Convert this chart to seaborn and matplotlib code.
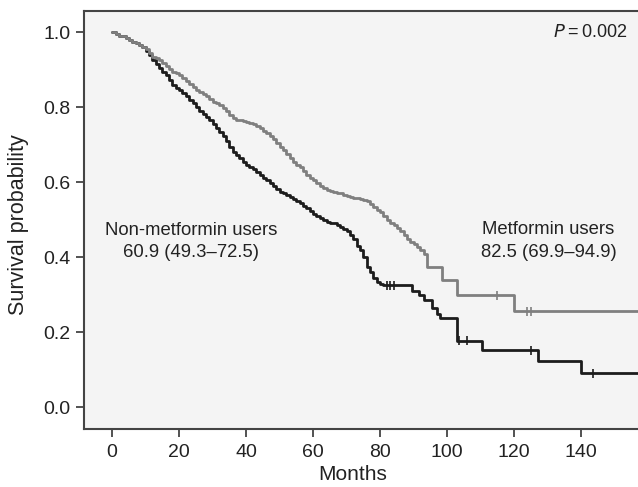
import pandas as pd
import numpy as np
import matplotlib
matplotlib.use("Agg")
import matplotlib.pyplot as plt
import seaborn as sns

# survival curves (time in months, survival probability)
non_met_time = [0, 1, 2, 3, 4, 5, 6, 7, 8, 9, 10, 11, 12, 13, 14, 15, 16, 17, 18, 19,
                20, 21, 22, 23, 24, 25, 26, 27, 28, 29, 30, 31, 32, 33, 34, 35, 36, 37, 38, 39,
                40, 41, 42, 43, 44, 45, 46, 47, 48, 49, 50, 51, 52, 53, 54, 55, 56, 57, 58, 59,
                60, 61, 62, 63, 64, 65, 66, 67, 68, 69, 70, 71, 72, 73, 74, 75, 76, 77, 78, 79,
                80, 81, 89.5, 91.5, 93, 95.5, 97, 98, 103, 110.5, 127, 140, 160]
non_met_surv = [1.0, 0.995, 0.99, 0.99, 0.985, 0.98, 0.975, 0.97, 0.965, 0.96,
                0.95, 0.94, 0.925, 0.915, 0.905, 0.895, 0.885, 0.872, 0.86, 0.852,
                0.845, 0.838, 0.83, 0.82, 0.81, 0.80, 0.79, 0.783, 0.775, 0.765,
                0.755, 0.745, 0.735, 0.722, 0.71, 0.695, 0.68, 0.672, 0.665, 0.655,
                0.645, 0.64, 0.635, 0.627, 0.62, 0.612, 0.605, 0.597, 0.59, 0.582,
                0.575, 0.57, 0.565, 0.56, 0.555, 0.55, 0.545, 0.537, 0.53, 0.522,
                0.515, 0.51, 0.505, 0.50, 0.495, 0.492, 0.49, 0.485, 0.48, 0.475,
                0.47, 0.46, 0.45, 0.43, 0.42, 0.40, 0.375, 0.36, 0.345, 0.335,
                0.33, 0.325, 0.31, 0.30, 0.285, 0.265, 0.25, 0.237, 0.178, 0.152,
                0.123, 0.091, 0.091]

met_time = [0, 1, 2, 3, 4, 5, 6, 7, 8, 9, 10, 11, 12, 13, 14, 15, 16, 17, 18, 19,
            20, 21, 22, 23, 24, 25, 26, 27, 28, 29, 30, 31, 32, 33, 34, 35, 36, 37, 38, 39,
            40, 41, 42, 43, 44, 45, 46, 47, 48, 49, 50, 51, 52, 53, 54, 55, 56, 57, 58, 59,
            60, 61, 62, 63, 64, 65, 66, 67, 68, 69, 70, 71, 72, 73, 74, 75, 76, 77, 78, 79,
            80, 81, 82, 83, 84, 85, 86, 87, 88, 89, 90, 91, 92, 93, 94, 98.5, 103, 120, 160]
met_surv = [1.0, 0.995, 0.99, 0.99, 0.985, 0.98, 0.975, 0.97, 0.965, 0.96,
            0.955, 0.945, 0.935, 0.93, 0.925, 0.917, 0.91, 0.902, 0.895, 0.89,
            0.885, 0.877, 0.87, 0.862, 0.855, 0.847, 0.84, 0.835, 0.83, 0.822,
            0.815, 0.81, 0.805, 0.797, 0.79, 0.78, 0.77, 0.767, 0.765, 0.762,
            0.76, 0.757, 0.755, 0.75, 0.745, 0.737, 0.73, 0.722, 0.715, 0.705,
            0.695, 0.685, 0.675, 0.665, 0.655, 0.647, 0.64, 0.63, 0.62, 0.612,
            0.605, 0.597, 0.59, 0.585, 0.58, 0.577, 0.575, 0.572, 0.57, 0.567,
            0.563, 0.56, 0.558, 0.557, 0.555, 0.552, 0.55, 0.542, 0.535, 0.527,
            0.52, 0.51, 0.50, 0.492, 0.485, 0.477, 0.47, 0.46, 0.45, 0.442,
            0.435, 0.427, 0.42, 0.41, 0.373, 0.339, 0.299, 0.256, 0.256]

non_met_cens_time = [82, 83, 84, 103.5, 106, 125, 143.5]
non_met_cens_surv = [0.325, 0.325, 0.325, 0.178, 0.178, 0.152, 0.091]
met_cens_time = [115, 124, 125]
met_cens_surv = [0.299, 0.256, 0.256]

curves = pd.concat([
    pd.DataFrame({"Months": non_met_time, "Survival": non_met_surv, "group": "Non-metformin users"}),
    pd.DataFrame({"Months": met_time, "Survival": met_surv, "group": "Metformin users"}),
])
cens = pd.concat([
    pd.DataFrame({"Months": non_met_cens_time, "Survival": non_met_cens_surv, "group": "Non-metformin users"}),
    pd.DataFrame({"Months": met_cens_time, "Survival": met_cens_surv, "group": "Metformin users"}),
])

sns.set_style("ticks")
plt.rcParams['font.family'] = ['Liberation Sans', 'DejaVu Sans']

palette = {"Non-metformin users": "#1c1c1c", "Metformin users": "#7f7f7f"}
txt = "#222222"

fig = plt.figure(figsize=(6.38, 4.87), dpi=100)
ax = fig.add_axes([0.1317, 0.119, 0.8683, 0.858])
ax.set_facecolor("#f4f4f4")

sns.lineplot(data=curves, x="Months", y="Survival", hue="group", palette=palette,
             estimator=None, drawstyle="steps-post", linewidth=2.0, legend=False, ax=ax)
sns.scatterplot(data=cens, x="Months", y="Survival", hue="group", palette=palette,
                marker="|", s=40, linewidth=1.2, legend=False, ax=ax)

ax.set_xlim(-8.4, 157)
ax.set_ylim(-0.058, 1.056)
ax.set_xticks(np.arange(0, 141, 20))
ax.set_yticks([0.0, 0.2, 0.4, 0.6, 0.8, 1.0])
ax.set_yticklabels(["0.0", "0.2", "0.4", "0.6", "0.8", "1.0"])
ax.set_xlabel("Months", fontsize=15, color=txt)
ax.set_ylabel("Survival probability", fontsize=15.5, color=txt)
ax.yaxis.set_label_coords(-0.099, 0.49)
ax.xaxis.set_label_coords(0.485, -0.087)
ax.tick_params(axis="both", labelsize=14, colors="#444444", labelcolor=txt,
               length=6, width=1.3, direction="out")
ax.tick_params(axis="x", pad=5)

for side in ["left", "bottom", "top"]:
    ax.spines[side].set_color("#444444")
    ax.spines[side].set_linewidth(1.5)
ax.spines["right"].set_visible(False)

ax.text(23.6, 0.472, "Non-metformin users", fontsize=13.3, ha="center", va="center", color=txt)
ax.text(23.6, 0.413, "60.9 (49.3\u201372.5)", fontsize=13.3, ha="center", va="center", color=txt)
ax.text(130.3, 0.475, "Metformin users", fontsize=13.3, ha="center", va="center", color=txt)
ax.text(130.3, 0.413, "82.5 (69.9\u201394.9)", fontsize=13.3, ha="center", va="center", color=txt)
ax.text(154, 1.0, "$\\it{P}$\u2009=\u20090.002", fontsize=13, ha="right", va="center", color=txt)

fig.savefig("out.png", dpi=100)
